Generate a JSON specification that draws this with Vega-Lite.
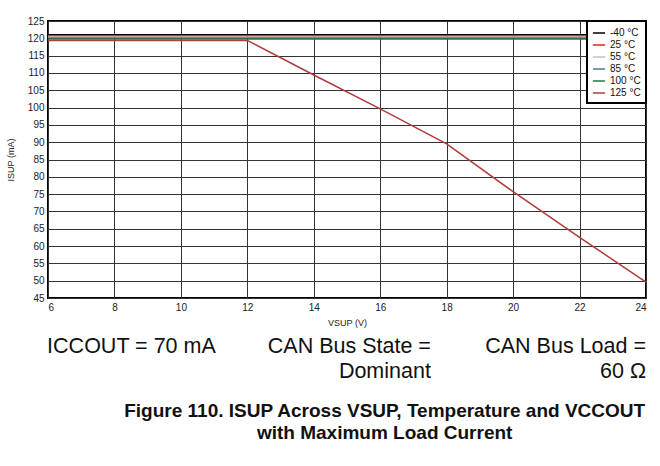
{
  "$schema": "https://vega.github.io/schema/vega-lite/v6.json",
  "padding": {"left": 5, "top": 15, "right": 0, "bottom": 0},
  "background": "white",
  "config": {
    "font": "Liberation Sans",
    "view": {"stroke": "#000", "strokeWidth": 2},
    "legend": {"strokeWidth": 2},
    "axis": {
      "labelFont": "Liberation Sans",
      "labelFontSize": 10,
      "labelColor": "#222",
      "ticks": false,
      "domain": false,
      "labelPadding": 4,
      "gridColor": "#333",
      "gridWidth": 1,
      "gridOpacity": 1,
      "titleFont": "Liberation Sans",
      "titleFontSize": 9,
      "titleFontWeight": "normal",
      "titleColor": "#222"
    }
  },
  "title": {
    "text": ["Figure 110. ISUP Across VSUP, Temperature and VCCOUT", "with Maximum Load Current"],
    "orient": "bottom",
    "anchor": "middle",
    "font": "Liberation Sans",
    "fontSize": 19,
    "fontWeight": "bold",
    "lineHeight": 22,
    "color": "#111",
    "offset": 19,
    "dx": 57
  },
  "spacing": 8,
  "vconcat": [
    {
      "width": 598,
      "height": 277,
      "data": {
        "values": [
          {"t": "-40 °C", "v": 6, "i": 121.0}, {"t": "-40 °C", "v": 8, "i": 121.0}, {"t": "-40 °C", "v": 10, "i": 121.0}, {"t": "-40 °C", "v": 12, "i": 121.0}, {"t": "-40 °C", "v": 14, "i": 121.0}, {"t": "-40 °C", "v": 16, "i": 121.0}, {"t": "-40 °C", "v": 18, "i": 121.0}, {"t": "-40 °C", "v": 20, "i": 121.0}, {"t": "-40 °C", "v": 22, "i": 121.0}, {"t": "-40 °C", "v": 24, "i": 121.0},
          {"t": "25 °C", "v": 6, "i": 120.7}, {"t": "25 °C", "v": 8, "i": 120.7}, {"t": "25 °C", "v": 10, "i": 120.7}, {"t": "25 °C", "v": 12, "i": 120.7}, {"t": "25 °C", "v": 14, "i": 120.7}, {"t": "25 °C", "v": 16, "i": 120.7}, {"t": "25 °C", "v": 18, "i": 120.7}, {"t": "25 °C", "v": 20, "i": 120.7}, {"t": "25 °C", "v": 22, "i": 120.7}, {"t": "25 °C", "v": 24, "i": 120.7},
          {"t": "55 °C", "v": 6, "i": 120.4}, {"t": "55 °C", "v": 8, "i": 120.4}, {"t": "55 °C", "v": 10, "i": 120.4}, {"t": "55 °C", "v": 12, "i": 120.4}, {"t": "55 °C", "v": 14, "i": 120.4}, {"t": "55 °C", "v": 16, "i": 120.4}, {"t": "55 °C", "v": 18, "i": 120.4}, {"t": "55 °C", "v": 20, "i": 120.4}, {"t": "55 °C", "v": 22, "i": 120.4}, {"t": "55 °C", "v": 24, "i": 120.4},
          {"t": "85 °C", "v": 6, "i": 120.1}, {"t": "85 °C", "v": 8, "i": 120.1}, {"t": "85 °C", "v": 10, "i": 120.1}, {"t": "85 °C", "v": 12, "i": 120.1}, {"t": "85 °C", "v": 14, "i": 120.1}, {"t": "85 °C", "v": 16, "i": 120.1}, {"t": "85 °C", "v": 18, "i": 120.1}, {"t": "85 °C", "v": 20, "i": 120.1}, {"t": "85 °C", "v": 22, "i": 120.1}, {"t": "85 °C", "v": 24, "i": 120.1},
          {"t": "100 °C", "v": 6, "i": 119.8}, {"t": "100 °C", "v": 8, "i": 119.8}, {"t": "100 °C", "v": 10, "i": 119.8}, {"t": "100 °C", "v": 12, "i": 119.8}, {"t": "100 °C", "v": 14, "i": 119.8}, {"t": "100 °C", "v": 16, "i": 119.8}, {"t": "100 °C", "v": 18, "i": 119.8}, {"t": "100 °C", "v": 20, "i": 119.8}, {"t": "100 °C", "v": 22, "i": 119.8}, {"t": "100 °C", "v": 24, "i": 119.8},
          {"t": "125 °C", "v": 6, "i": 119.4}, {"t": "125 °C", "v": 8, "i": 119.4}, {"t": "125 °C", "v": 10, "i": 119.4}, {"t": "125 °C", "v": 12, "i": 119.4}, {"t": "125 °C", "v": 14, "i": 109.4}, {"t": "125 °C", "v": 16, "i": 99.6}, {"t": "125 °C", "v": 18, "i": 89.5}, {"t": "125 °C", "v": 20, "i": 75.7}, {"t": "125 °C", "v": 22, "i": 62.5}, {"t": "125 °C", "v": 24, "i": 49.6}
        ]
      },
      "mark": {"type": "line", "strokeWidth": 1.5},
      "encoding": {
        "x": {
          "field": "v", "type": "quantitative",
          "scale": {"domain": [6, 24], "nice": false, "zero": false},
          "axis": {"values": [6, 8, 10, 12, 14, 16, 18, 20, 22, 24], "title": "VSUP (V)", "titlePadding": 6}
        },
        "y": {
          "field": "i", "type": "quantitative",
          "scale": {"domain": [45, 125], "nice": false, "zero": false},
          "axis": {"values": [45, 50, 55, 60, 65, 70, 75, 80, 85, 90, 95, 100, 105, 110, 115, 120, 125], "title": "ISUP (mA)", "titlePadding": 12}
        },
        "color": {
          "field": "t", "type": "nominal",
          "scale": {
            "domain": ["-40 °C", "25 °C", "55 °C", "85 °C", "100 °C", "125 °C"],
            "range": ["#000000", "#ee1c1c", "#c0c0c0", "#4d7a91", "#1f7a3f", "#b23b3b"]
          },
          "legend": {
            "title": null,
            "orient": "top-right",
            "offset": 0,
            "fillColor": "white",
            "strokeColor": "#000",
            "padding": 5,
            "symbolType": "stroke",
            "symbolStrokeWidth": 1.5,
            "symbolSize": 150,
            "labelFontSize": 10,
            "labelFont": "Liberation Sans",
            "labelColor": "#111",
            "rowPadding": 0
          }
        }
      }
    },
    {
      "width": 598,
      "height": 25,
      "view": {"stroke": null},
      "data": {
        "values": [
          {"col": "c1", "row": "r1", "text": "ICCOUT = 70 mA"},
          {"col": "c2", "row": "r1", "text": "CAN Bus State ="},
          {"col": "c2", "row": "r2", "text": "Dominant"},
          {"col": "c3", "row": "r1", "text": "CAN Bus Load ="},
          {"col": "c3", "row": "r2", "text": "60 Ω"}
        ]
      },
      "mark": {"type": "text", "align": "right", "baseline": "middle", "fontSize": 21.5, "font": "Liberation Sans", "color": "#111"},
      "encoding": {
        "x": {"field": "col", "type": "nominal", "scale": {"type": "point", "padding": 0.39, "align": 1}, "axis": null},
        "y": {"field": "row", "type": "nominal", "scale": {"type": "point", "padding": 0}, "axis": null},
        "text": {"field": "text"}
      }
    }
  ],
  "resolve": {"scale": {"color": "independent"}, "legend": {"color": "independent"}}
}
